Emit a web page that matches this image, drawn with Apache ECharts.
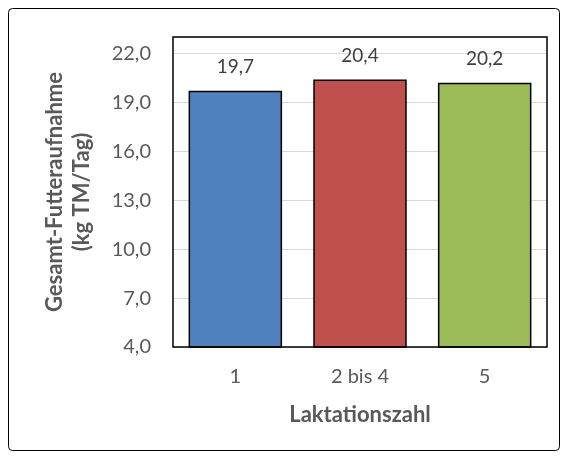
<!DOCTYPE html>
<html>
<head>
<meta charset="utf-8">
<script src="https://cdn.jsdelivr.net/npm/echarts@6/dist/echarts.min.js"></script>
<style>
  html, body { margin: 0; padding: 0; background: #fff; }
  #chart { width: 568px; height: 457px; }
</style>
</head>
<body>
<div id="chart"></div>
<script>
// Laktationszahl categories and mean intake values
var categories = ['1', '2 bis 4', '5']
var values = [19.7, 20.4, 20.2]
var barColors = ['#4F81BD', '#C0504D', '#9BBB59']
var yTicks = { min: 4, max: 23, interval: 3 }

var chart = echarts.init(document.getElementById('chart'))
var font = 'Lato, "Open Sans", sans-serif'

chart.setOption({
  animation: false,
  graphic: [
    {
      type: 'rect',
      shape: { x: 8.5, y: 8.5, width: 551, height: 442, r: 4 },
      style: { fill: 'none', stroke: '#000', lineWidth: 1 },
      z: 100
    }
  ],
  grid: {
    left: 173,
    right: 21,
    top: 37,
    bottom: 110,
    show: true,
    borderColor: '#000',
    borderWidth: 1.5,
    z: 10
  },
  xAxis: {
    type: 'category',
    data: categories,
    name: 'Laktationszahl',
    nameLocation: 'middle',
    nameGap: 57,
    nameTextStyle: { color: '#595959', fontSize: 22, fontWeight: 'bold', fontFamily: font },
    axisLine: { show: false },
    axisTick: { show: false },
    axisLabel: { color: '#595959', fontSize: 20, margin: 20, fontFamily: font }
  },
  yAxis: {
    type: 'value',
    min: yTicks.min,
    max: yTicks.max,
    interval: yTicks.interval,
    name: 'Gesamt-Futteraufnahme\n(kg TM/Tag)',
    nameLocation: 'middle',
    nameRotate: 90,
    nameGap: 78,
    nameTextStyle: { color: '#595959', fontSize: 22, fontWeight: 'bold', fontFamily: font, lineHeight: 27 },
    axisLine: { show: false },
    axisTick: { show: false },
    splitLine: { lineStyle: { color: '#D9D9D9', width: 1 } },
    axisLabel: {
      color: '#595959',
      fontSize: 20,
      margin: 22,
      fontFamily: font,
      showMaxLabel: false,
      formatter: function (v) {
        return v === yTicks.max ? '' : v.toFixed(1).replace('.', ',')
      }
    }
  },
  series: [
    {
      type: 'bar',
      barWidth: '75%',
      data: values.map(function (v, i) {
        return { value: v, itemStyle: { color: barColors[i] } }
      }),
      itemStyle: { borderColor: '#000', borderWidth: 1.5 },
      label: {
        show: true,
        position: 'top',
        distance: 14,
        color: '#404040',
        fontSize: 19,
        fontFamily: font,
        formatter: function (p) {
          return p.value.toFixed(1).replace('.', ',')
        }
      }
    }
  ]
})
</script>
</body>
</html>
